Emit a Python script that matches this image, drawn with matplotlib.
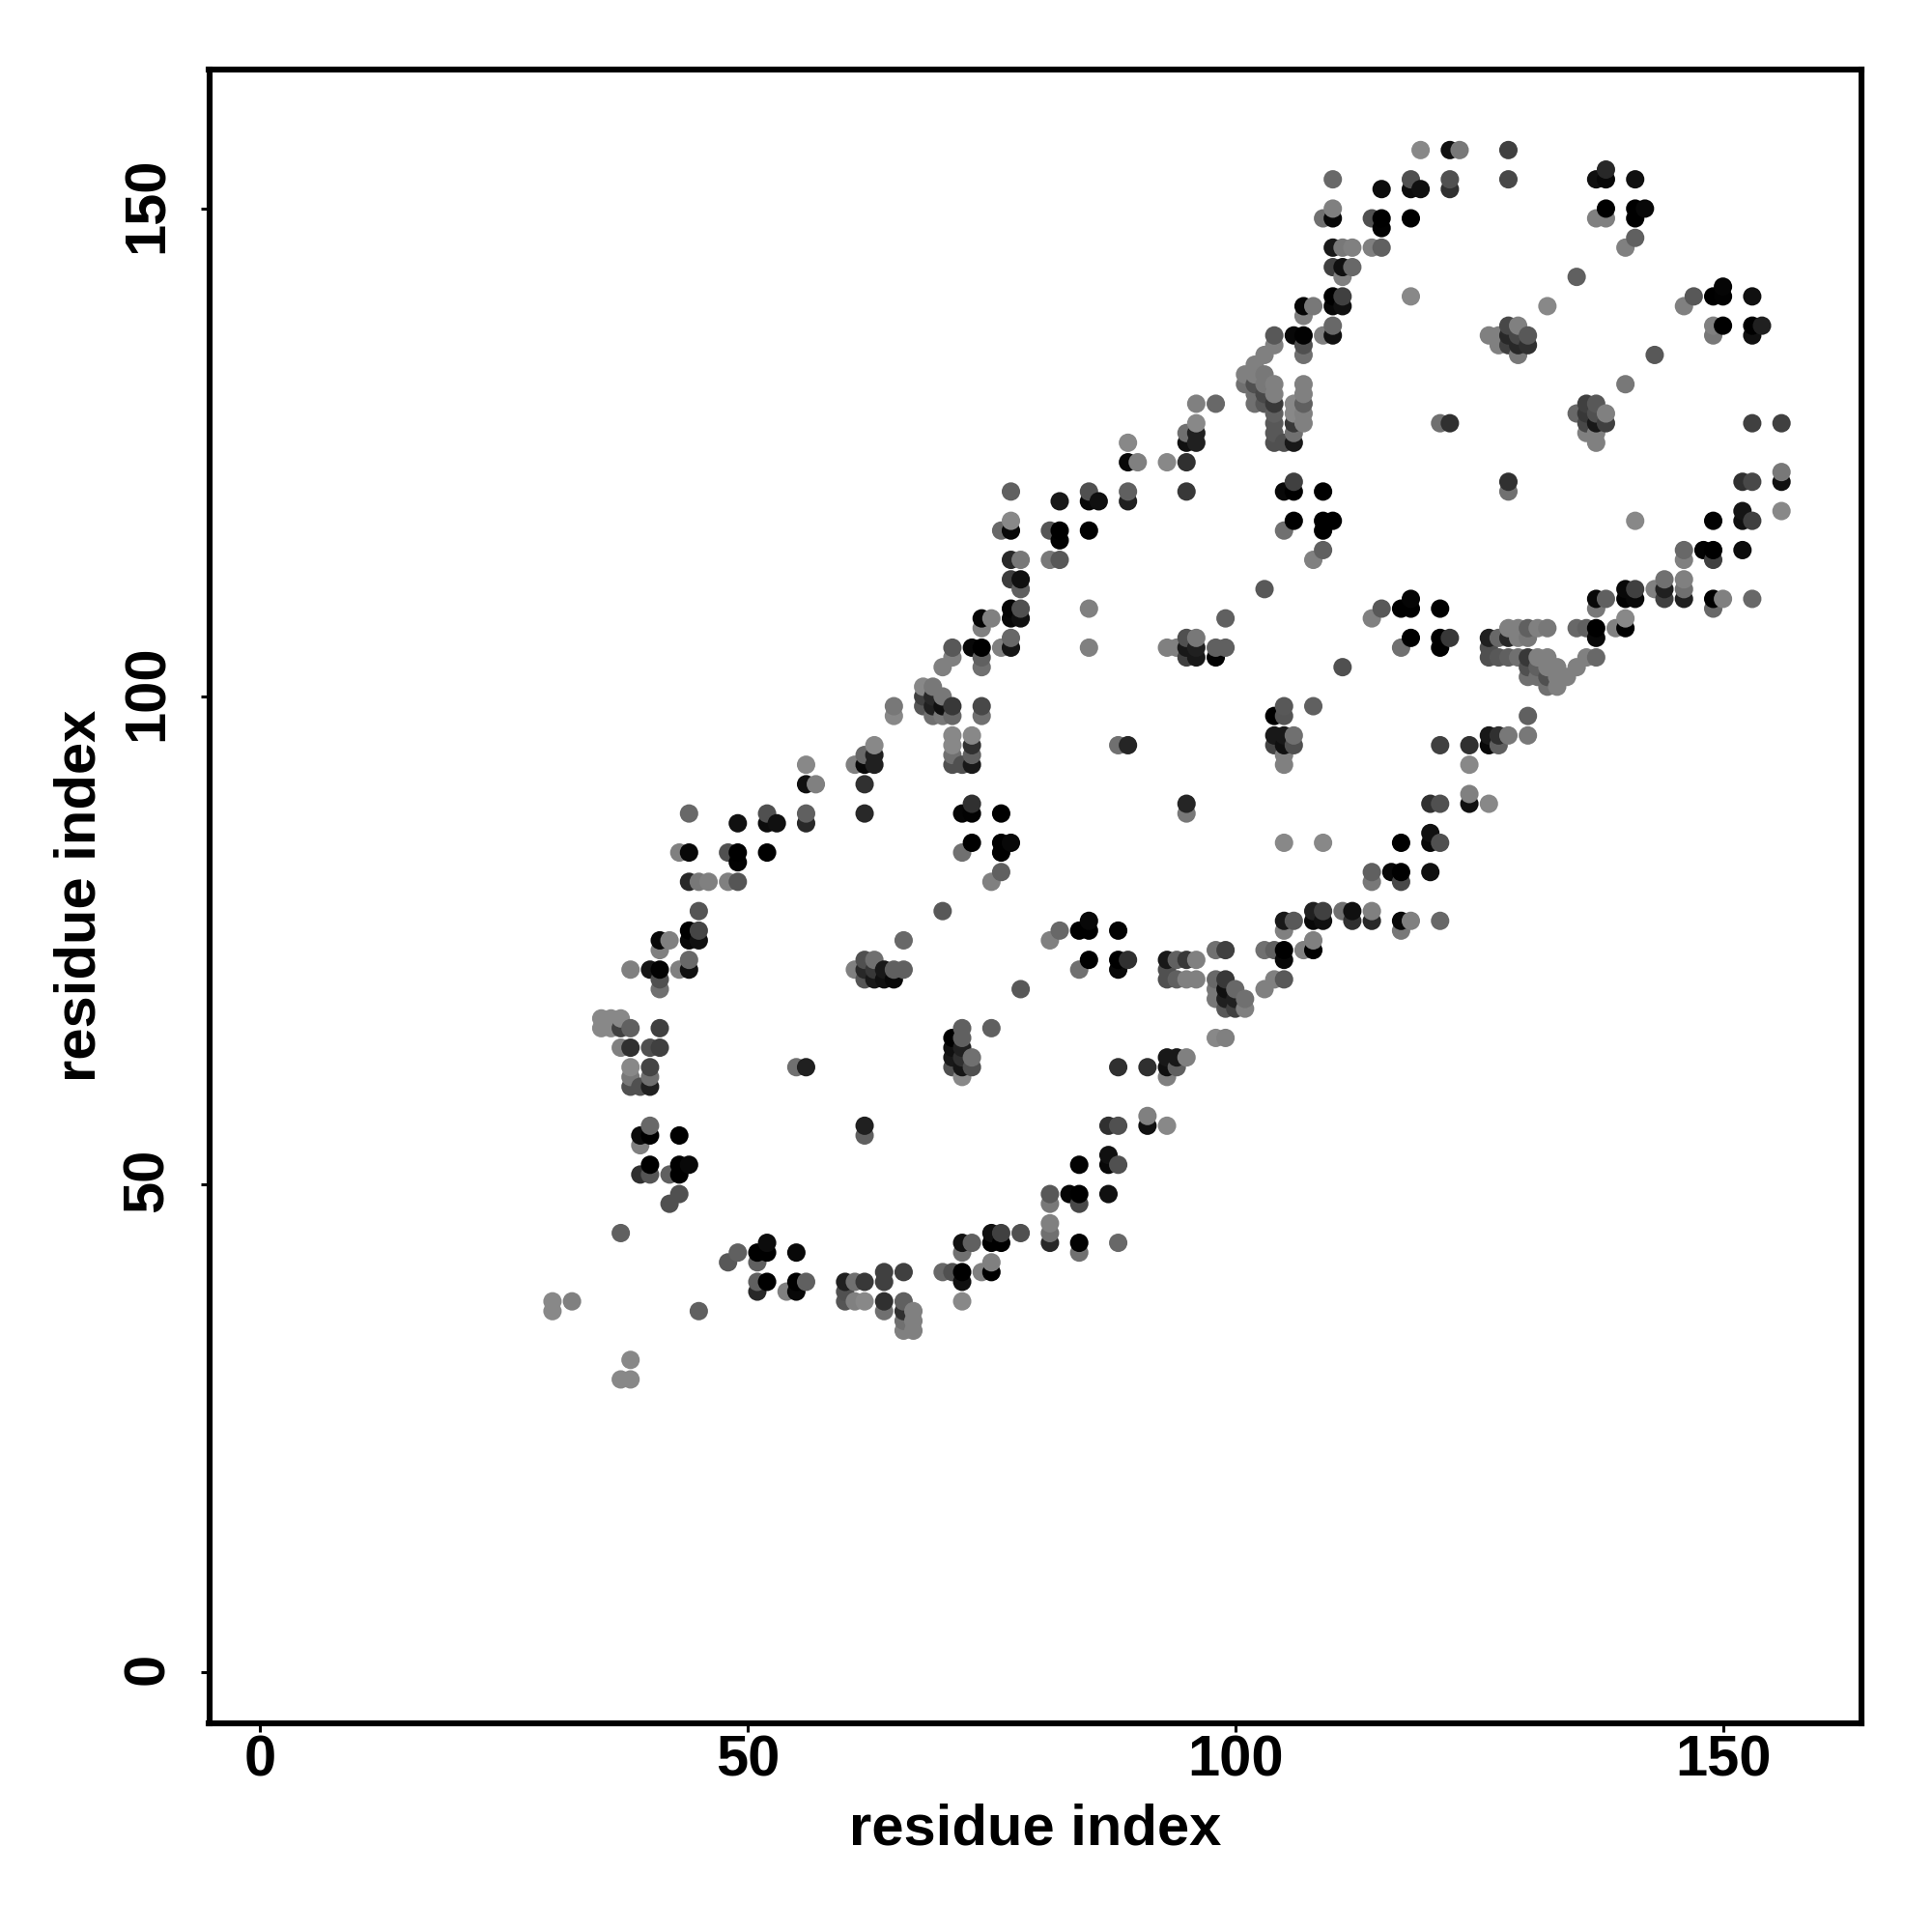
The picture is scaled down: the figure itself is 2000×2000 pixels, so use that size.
import numpy as np
import matplotlib
matplotlib.use("Agg")
import matplotlib.pyplot as plt
from matplotlib.transforms import ScaledTranslation

plt.rcParams["font.family"] = ["Liberation Sans", "DejaVu Sans"]
plt.rcParams["font.weight"] = "bold"

tick_vals = [0, 50, 100, 150]

# one row per x residue: y residues and their grey level (0-255)
col_x = [30, 32, 35, 36, 37, 38, 39, 40, 41, 42, 43, 44, 45, 46, 48, 49, 51, 52, 53, 54, 55, 56, 57, 60, 61, 62, 63, 64,
         65, 66, 67, 68, 69, 70, 71, 72, 73, 74, 75, 76, 77, 78, 81, 82, 83, 84, 85, 86, 87, 88, 89, 90, 91, 93, 94,
         95, 96, 98, 99, 100, 101, 102, 103, 104, 105, 106, 107, 108, 109, 110, 111, 112, 114, 115, 116, 117, 118,
         119, 120, 121, 122, 123, 124, 126, 127, 128, 129, 130, 131, 132, 133, 134, 135, 136, 137, 138, 139, 140,
         141, 142, 143, 144, 146, 147, 148, 149, 150, 152, 153, 154, 156]
col_y = [
    [37, 38], [38], [66, 67], [66, 67], [30, 45, 64, 66, 67], [30, 32, 60, 61, 62, 64, 66, 72],
    [51, 54, 55, 60], [51, 52, 55, 56, 60, 61, 62, 64, 72], [64, 66, 70, 71, 72, 74, 75], [48, 51, 75],
    [49, 51, 52, 55, 72, 84], [52, 72, 73, 75, 76, 81, 84, 88], [37, 75, 76, 78, 81], [81], [42, 81, 84],
    [43, 81, 83, 84, 87], [39, 40, 42, 43], [40, 43, 44, 84, 87, 88], [87], [39], [39, 40, 43, 62],
    [40, 62, 87, 88, 91, 93], [91], [38, 39, 40], [38, 40, 72, 93],
    [38, 40, 55, 56, 71, 72, 73, 88, 91, 93, 94], [71, 72, 73, 93, 94, 95], [37, 38, 40, 41, 71, 72],
    [71, 72, 98, 99], [35, 36, 37, 38, 41, 72, 75], [35, 36, 37], [99, 100, 101], [98, 99, 100, 101],
    [41, 78, 98, 99, 100, 103], [41, 62, 63, 64, 65, 93, 94, 95, 96, 98, 99, 104, 105],
    [38, 40, 41, 43, 44, 61, 62, 63, 64, 65, 66, 84, 88, 93], [44, 62, 63, 85, 88, 89, 93, 94, 95, 96, 105],
    [41, 98, 99, 103, 104, 105, 107, 108], [41, 42, 44, 45, 66, 81, 108], [44, 45, 82, 84, 85, 88, 105, 117],
    [85, 105, 106, 108, 109, 112, 114, 117, 118, 121], [45, 70, 108, 109, 111, 112, 114],
    [44, 45, 46, 48, 49, 75, 114, 117], [76, 114, 116, 117, 120], [49], [43, 44, 48, 49, 52, 72, 76],
    [73, 76, 77, 105, 109, 117, 120, 121], [120], [49, 52, 53, 56], [44, 52, 56, 62, 72, 73, 76, 95],
    [73, 95, 120, 121, 124, 126], [124], [56, 57, 62], [56, 61, 62, 63, 71, 72, 73, 105, 124],
    [62, 63, 71, 73, 105], [63, 71, 73, 88, 89, 104, 105, 106, 121, 124, 126, 127],
    [71, 73, 104, 105, 106, 126, 127, 128, 130], [65, 69, 70, 71, 74, 104, 105, 130],
    [65, 68, 69, 70, 71, 74, 105, 108], [68, 69, 70], [68, 69, 132, 133], [130, 131, 132, 133, 134],
    [70, 74, 111, 130, 131, 132, 133, 135], [71, 74, 95, 96, 98, 126, 127, 128, 129, 130, 131, 132, 136, 137],
    [71, 73, 74, 76, 77, 85, 93, 94, 95, 96, 98, 99, 117, 121, 126],
    [77, 95, 96, 118, 121, 122, 126, 127, 128, 129, 130, 137],
    [74, 128, 129, 130, 131, 132, 135, 136, 137, 139, 140], [74, 75, 77, 78, 99, 114, 140],
    [77, 78, 85, 115, 117, 118, 121, 137, 149], [118, 137, 138, 140, 141, 144, 146, 149, 150, 153],
    [78, 103, 140, 141, 143, 144, 146], [77, 78, 144, 146], [77, 78, 81, 82, 108, 146, 149],
    [109, 146, 148, 149, 152], [82], [76, 77, 81, 82, 85, 105, 109], [77, 106, 109, 110, 141, 149, 152, 153],
    [152, 156], [82, 85, 86, 89], [77, 85, 89, 95, 105, 106, 109, 128], [106, 128, 152, 153, 156], [156],
    [89, 90, 93, 95], [89, 95, 96, 104, 105, 106, 137], [95, 96, 104, 106, 136, 137],
    [96, 104, 106, 107, 121, 122, 136, 137, 138, 153, 156], [104, 106, 107, 135, 136, 137, 138],
    [96, 98, 102, 103, 104, 106, 107, 136, 137], [102, 103, 104, 107], [101, 102, 103, 104, 107, 140],
    [101, 102, 103], [102], [103, 107, 129, 143], [104, 107, 127, 128, 129, 130],
    [104, 106, 107, 109, 110, 126, 127, 128, 129, 130, 149, 153], [110, 128, 129, 149, 150, 153, 154], [107],
    [107, 108, 110, 111, 132, 146], [110, 111, 118, 147, 149, 150, 153], [150], [111, 135], [110, 111, 112],
    [110, 111, 112, 114, 115, 140], [141], [115], [109, 110, 114, 115, 118, 137, 138, 141], [110, 138, 141, 142],
    [115, 118, 119, 122], [110, 118, 122, 128, 137, 138, 141], [138], [119, 122, 123, 128],
]
col_grey = [
    [0x88, 0x88], [0x80], [0x88, 0x88], [0x88, 0x88], [0x88, 0x60, 0x80, 0x40, 0x88],
    [0x88, 0x88, 0x50, 0x78, 0x88, 0x30, 0x60, 0x80],
    [0x30, 0x80, 0x0c, 0x50], [0x55, 0x00, 0x00, 0x68, 0x20, 0x70, 0x45, 0x50, 0x15],
    [0x40, 0x40, 0x70, 0x50, 0x02, 0x80, 0x08], [0x50, 0x60, 0x80],
    [0x50, 0x00, 0x00, 0x00, 0x80, 0x80], [0x08, 0x10, 0x68, 0x08, 0x00, 0x28, 0x08, 0x68],
    [0x60, 0x10, 0x45, 0x55, 0x78], [0x80], [0x58, 0x80, 0x50],
    [0x60, 0x55, 0x02, 0x00, 0x10], [0x28, 0x60, 0x60, 0x00], [0x00, 0x00, 0x0c, 0x00, 0x0c, 0x50], [0x10], [0x80],
    [0x08, 0x00, 0x08, 0x70],
    [0x60, 0x20, 0x28, 0x60, 0x10, 0x88], [0x80], [0x55, 0x50, 0x20], [0x80, 0x70, 0x80, 0x80],
    [0x88, 0x38, 0x60, 0x20, 0x55, 0x28, 0x50, 0x28, 0x30, 0x08, 0x68], [0x18, 0x38, 0x70, 0x20, 0x20, 0x88],
    [0x70, 0x30, 0x40, 0x40, 0x10, 0x18],
    [0x08, 0x60, 0x88, 0x78], [0x80, 0x70, 0x30, 0x60, 0x40, 0x60, 0x68], [0x80, 0x80, 0x80],
    [0x58, 0x40, 0x88], [0x70, 0x20, 0x28, 0x78],
    [0x68, 0x58, 0x78, 0x10, 0x78, 0x80],
    [0x50, 0x50, 0x18, 0x10, 0x00, 0x50, 0x70, 0x88, 0x88, 0x68, 0x38, 0x80, 0x58],
    [0x88, 0x10, 0x00, 0x70, 0x10, 0x88, 0x15, 0x30, 0x20, 0x60, 0x60, 0x70, 0x05, 0x50],
    [0x60, 0x50, 0x70, 0x00, 0x02, 0x30, 0x18, 0x60, 0x30, 0x88, 0x08],
    [0x80, 0x70, 0x48, 0x70, 0x60, 0x00, 0x80, 0x05], [0x00, 0x80, 0x00, 0x10, 0x60, 0x80, 0x80],
    [0x00, 0x40, 0x60, 0x00, 0x00, 0x00, 0x80, 0x68],
    [0x08, 0x15, 0x68, 0x08, 0x05, 0x3c, 0x28, 0x08, 0x88, 0x60], [0x50, 0x58, 0x10, 0x50, 0x60, 0x10, 0x78],
    [0x28, 0x70, 0x80, 0x78, 0x58, 0x80, 0x78, 0x55], [0x68, 0x58, 0x02, 0x00, 0x18], [0x05],
    [0x70, 0x02, 0x48, 0x00, 0x02, 0x70, 0x00],
    [0x00, 0x00, 0x08, 0x80, 0x80, 0x00, 0x08, 0x50], [0x10], [0x10, 0x08, 0x10, 0x30],
    [0x68, 0x50, 0x50, 0x30, 0x08, 0x00, 0x02, 0x70],
    [0x30, 0x25, 0x20, 0x60, 0x08, 0x88], [0x80], [0x10, 0x80, 0x30],
    [0x88, 0x80, 0x10, 0x18, 0x50, 0x50, 0x18, 0x80, 0x88],
    [0x60, 0x18, 0x60, 0x60, 0x80], [0x80, 0x80, 0x38, 0x78, 0x25, 0x40, 0x18, 0x50, 0x38, 0x30, 0x10, 0x70],
    [0x80, 0x80, 0x18, 0x20, 0x78, 0x20, 0x20, 0x88, 0x80], [0x88, 0x78, 0x78, 0x68, 0x70, 0x02, 0x60, 0x68],
    [0x80, 0x58, 0x20, 0x10, 0x38, 0x40, 0x60, 0x60], [0x40, 0x20, 0x68], [0x80, 0x70, 0x70, 0x80],
    [0x70, 0x70, 0x50, 0x80, 0x80],
    [0x80, 0x70, 0x58, 0x58, 0x48, 0x78, 0x78, 0x80],
    [0x80, 0x60, 0x45, 0x18, 0x00, 0x50, 0x58, 0x58, 0x60, 0x38, 0x80, 0x80, 0x80, 0x58],
    [0x58, 0x08, 0x00, 0x80, 0x18, 0x88, 0x80, 0x80, 0x10, 0x18, 0x55, 0x58, 0x70, 0x08, 0x50],
    [0x58, 0x50, 0x70, 0x00, 0x00, 0x40, 0x18, 0x70, 0x38, 0x88, 0x88, 0x08],
    [0x80, 0x80, 0x80, 0x60, 0x80, 0x80, 0x70, 0x50, 0x02, 0x80, 0x05], [0x00, 0x80, 0x08, 0x20, 0x60, 0x80, 0x78],
    [0x10, 0x40, 0x88, 0x60, 0x00, 0x00, 0x00, 0x80, 0x70],
    [0x00, 0x10, 0x68, 0x08, 0x00, 0x40, 0x18, 0x08, 0x80, 0x68],
    [0x70, 0x50, 0x10, 0x40, 0x80, 0x10, 0x78], [0x30, 0x10, 0x68, 0x80],
    [0x28, 0x80, 0x78, 0x60, 0x80, 0x80, 0x50],
    [0x58, 0x60, 0x02, 0x00, 0x0c], [0x08], [0x78, 0x08, 0x48, 0x00, 0x00, 0x70, 0x00],
    [0x80, 0x00, 0x00, 0x05, 0x88, 0x00, 0x0c, 0x50],
    [0x10, 0x88], [0x10, 0x08, 0x10, 0x30], [0x68, 0x50, 0x50, 0x40, 0x00, 0x00, 0x00, 0x70],
    [0x38, 0x30, 0x30, 0x50, 0x10], [0x78],
    [0x10, 0x80, 0x88, 0x30], [0x88, 0x08, 0x18, 0x50, 0x50, 0x20, 0x80], [0x60, 0x30, 0x58, 0x68, 0x80, 0x80],
    [0x78, 0x60, 0x28, 0x80, 0x70, 0x30, 0x40, 0x28, 0x48, 0x48, 0x40], [0x70, 0x80, 0x80, 0x78, 0x28, 0x48, 0x80],
    [0x78, 0x60, 0x70, 0x50, 0x38, 0x78, 0x60, 0x30, 0x58], [0x70, 0x60, 0x80, 0x80],
    [0x70, 0x50, 0x80, 0x80, 0x78, 0x88],
    [0x80, 0x80, 0x80], [0x80], [0x80, 0x68, 0x68, 0x60], [0x80, 0x60, 0x80, 0x48, 0x38, 0x40],
    [0x68, 0x08, 0x00, 0x78, 0x08, 0x80, 0x80, 0x18, 0x50, 0x58, 0x80, 0x10],
    [0x60, 0x40, 0x80, 0x80, 0x00, 0x08, 0x28], [0x80],
    [0x00, 0x88, 0x02, 0x08, 0x78, 0x80], [0x08, 0x40, 0x88, 0x60, 0x00, 0x00, 0x10], [0x08], [0x80, 0x58],
    [0x40, 0x20, 0x70],
    [0x20, 0x70, 0x80, 0x80, 0x68, 0x80], [0x58], [0x02], [0x68, 0x00, 0x40, 0x00, 0x02, 0x78, 0x80, 0x00],
    [0x80, 0x00, 0x02, 0x05],
    [0x0c, 0x10, 0x15, 0x30], [0x68, 0x40, 0x48, 0x40, 0x10, 0x00, 0x10], [0x20], [0x88, 0x10, 0x78, 0x40],
]

xs, ys, greys = [], [], []
for cx, cy, cg in zip(col_x, col_y, col_grey):
    assert len(cy) == len(cg), cx
    for yy, gg in zip(cy, cg):
        xs.append(cx)
        ys.append(yy)
        greys.append(gg / 255)

# later columns sit on top, and higher y on top inside a column
order = np.lexsort((ys, xs))
xs = np.array(xs)[order]
ys = np.array(ys)[order]
colors = [(greys[i], greys[i], greys[i]) for i in order]

fig = plt.figure(figsize=(10, 10), dpi=200)
ax = fig.add_axes([216.5 / 2000, 1 - 1783.5 / 2000, (1927 - 216.5) / 2000, (1783.5 - 71.5) / 2000])
ax.scatter(xs, ys, s=47, c=colors, linewidths=0, zorder=3)

ax.set_xlim(-5.2, 164.2)
ax.set_ylim(-5.2, 164.3)
ax.set_xticks(tick_vals)
ax.set_yticks(tick_vals)
ax.tick_params(axis="x", length=3.2, width=1.1, labelsize=21.5, pad=1)
ax.tick_params(axis="y", length=3.2, width=1.1, labelsize=21.5, pad=9.7)
up = ScaledTranslation(0, 1.4 / 72, fig.dpi_scale_trans)
for lab in ax.get_yticklabels():
    lab.set_rotation(90)
    lab.set_va("center")
    lab.set_transform(lab.get_transform() + up)
for side in ax.spines.values():
    side.set_linewidth(2.2)

ax.set_xlabel("residue index", fontsize=21.5, fontweight="bold")
ax.set_ylabel("residue index", fontsize=21.5, fontweight="bold")
ax.xaxis.set_label_coords(0.5, -0.0486)
ax.yaxis.set_label_coords(-0.0621, 0.5)

plt.savefig("out.png", dpi=200)
